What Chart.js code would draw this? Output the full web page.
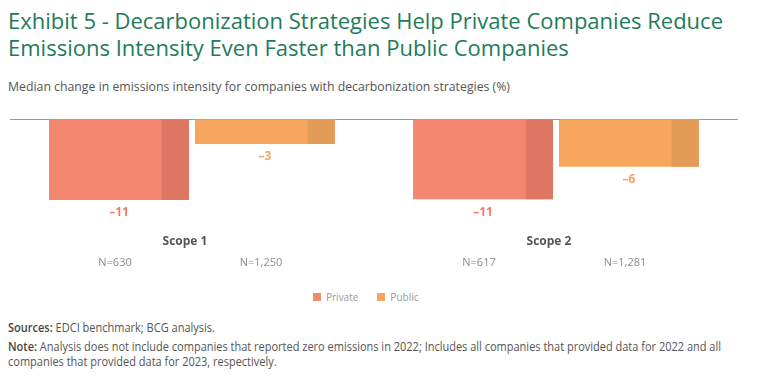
<!DOCTYPE html>
<html>
<head>
<meta charset="utf-8">
<script src="https://cdn.jsdelivr.net/npm/chart.js@4.4.1/dist/chart.umd.min.js"></script>
<style>
  html, body { margin: 0; padding: 0; background: #fff; }
  body { width: 768px; height: 376px; position: relative; overflow: hidden; font-family: "Open Sans", sans-serif; }
  .fit { position: absolute; left: 8px; white-space: nowrap; transform-origin: 0 0; }
  .title { top: 8px; color: #1E7C59; font-size: 21px; line-height: 27px; }
  .subtitle { top: 79px; color: #555; font-size: 12.5px; line-height: 16px; }
  .sources { top: 321px; color: #555; font-size: 12px; line-height: 13px; }
  .note { top: 339px; color: #555; font-size: 12px; line-height: 15px; }
  b { color: #444; font-weight: 600; }
  #chartWrap { position: absolute; left: 0; top: 100px; width: 768px; height: 190px; }
  #legend { position: absolute; left: 313px; top: 290px; height: 14px; display: flex; align-items: center; font-family: "Open Sans", sans-serif; font-size: 10px; color: #999; }
  #legend .item { display: flex; align-items: center; margin-right: 19px; }
  #legend .sw { width: 8px; height: 8px; margin-right: 5px; }
</style>
</head>
<body>
<div class="fit title" data-w="715"><span class="l1">Exhibit 5 - Decarbonization Strategies Help Private Companies Reduce</span><br>Emissions Intensity Even Faster than Public Companies</div>
<div class="fit subtitle" data-w="502"><span class="l1">Median change in emissions intensity for companies with decarbonization strategies (%)</span></div>
<div id="chartWrap"><canvas id="c"></canvas></div>
<div id="legend"></div>
<div class="fit sources" data-w="207"><span class="l1"><b>Sources:</b> EDCI benchmark; BCG analysis.</span></div>
<div class="fit note" data-w="713"><span class="l1"><b>Note:</b> Analysis does not include companies that reported zero emissions in 2022; Includes all companies that provided data for 2022 and all</span><br>companies that provided data for 2023, respectively.</div>
<script>
const categories = ['Scope 1', 'Scope 2'];
const seriesNames = ['Private', 'Public'];
const privateValues = [-10.7, -10.6];
const publicValues = [-3.3, -6.3];
const privateN = ['N=630', 'N=617'];
const publicN = ['N=1,250', 'N=1,281'];

const mainColors = ['#F4876F', '#F7A65D'];
const shadeColors = ['#DF7664', '#E39B58'];
const labelColors = ['#F07E67', '#F5A55E'];
const nLabels = [privateN, publicN];

document.querySelectorAll('.fit').forEach(el => {
  const l1 = el.querySelector('.l1');
  const w = l1.getBoundingClientRect().width;
  el.style.transform = 'scaleX(' + (parseFloat(el.dataset.w) / w) + ')';
});

const barDecor = {
  id: 'barDecor',
  afterDatasetsDraw(chart) {
    const ctx = chart.ctx;
    ctx.save();
    chart.data.datasets.forEach((ds, di) => {
      const meta = chart.getDatasetMeta(di);
      meta.data.forEach((bar, i) => {
        const right = bar.x + bar.width / 2;
        const sw = bar.width * 0.195;
        ctx.fillStyle = shadeColors[di];
        ctx.fillRect(right - sw, Math.min(bar.base, bar.y), sw, Math.abs(bar.y - bar.base));
        const v = ds.data[i];
        ctx.font = 'bold 12px "Open Sans", sans-serif';
        ctx.fillStyle = labelColors[di];
        ctx.textAlign = 'center';
        ctx.textBaseline = 'middle';
        ctx.fillText((v < 0 ? '\u2013' : '') + Math.round(Math.abs(v)), bar.x, bar.y + 13);
        ctx.font = '11px "Open Sans", sans-serif';
        ctx.fillStyle = '#8a8a8a';
        ctx.fillText(nLabels[di][i], bar.x - 4, 163);
      });
    });
    ctx.restore();
  }
};

const chart = new Chart(document.getElementById('c'), {
  type: 'bar',
  data: {
    labels: categories,
    datasets: [
      { label: seriesNames[0], data: privateValues, backgroundColor: mainColors[0] },
      { label: seriesNames[1], data: publicValues, backgroundColor: mainColors[1] }
    ]
  },
  options: {
    responsive: true,
    maintainAspectRatio: false,
    animation: false,
    categoryPercentage: 0.802,
    barPercentage: 0.959,
    layout: { padding: { top: 19, left: 10, right: 30, bottom: 0 } },
    plugins: { legend: { display: false }, tooltip: { enabled: false } },
    scales: {
      y: {
        min: -10.7, max: 0,
        border: { display: false },
        ticks: { display: false },
        afterBuildTicks(scale) { scale.ticks = [{ value: 0 }]; },
        grid: { drawTicks: false, color: '#9a9a9a', lineWidth: 1 }
      },
      x: {
        border: { display: false },
        grid: { display: false, drawTicks: false },
        ticks: { padding: 34, labelOffset: -7, color: '#555', font: { family: '"Open Sans", sans-serif', size: 12, weight: 'bold' } },
        afterFit(scale) { scale.height = 90; }
      }
    }
  },
  plugins: [barDecor]
});

const legend = document.getElementById('legend');
seriesNames.forEach((n, i) => {
  const it = document.createElement('div');
  it.className = 'item';
  it.innerHTML = '<span class="sw" style="background:' + mainColors[i] + '"></span>' + n;
  legend.appendChild(it);
});
</script>
</body>
</html>
